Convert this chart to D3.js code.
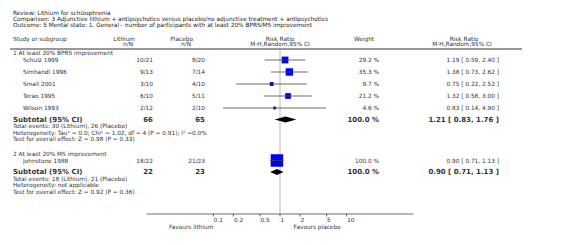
<!DOCTYPE html>
<html>
<head>
<meta charset="utf-8">
<script src="https://cdn.jsdelivr.net/npm/d3@7"></script>
<style>
  body { margin: 0; background: #fff; }
  svg text { font-family: "DejaVu Sans", Verdana, sans-serif; fill: #333; }
</style>
</head>
<body>
<div id="chart"></div>
<script>
// Study data
const studies = ["Schulz 1999", "Simhandl 1996", "Small 2001", "Terao 1995", "Wilson 1993", "Johnstone 1988"];
const studyGroup = [0, 0, 0, 0, 0, 1];
const lithiumEvents = [10, 9, 3, 6, 2, 18];
const lithiumTotal = [21, 13, 10, 10, 12, 22];
const placeboEvents = [8, 7, 4, 5, 2, 21];
const placeboTotal = [20, 14, 10, 11, 10, 23];
const riskRatio = [1.19, 1.38, 0.75, 1.32, 0.83, 0.90];
const ciLow = [0.59, 0.73, 0.22, 0.58, 0.14, 0.71];
const ciHigh = [2.40, 2.62, 2.52, 3.00, 4.90, 1.13];
const weights = [29.2, 35.3, 9.7, 21.2, 4.6, 100.0];

// Subgroup data
const groupNames = ["1 At least 20% BPRS improvement", "2 At least 20% MS improvement"];
const groupLithiumTotal = [66, 22];
const groupPlaceboTotal = [65, 23];
const groupRR = [1.21, 0.90];
const groupLow = [0.83, 0.71];
const groupHigh = [1.76, 1.13];
const groupEvents = ["Total events: 30 (Lithium), 26 (Placebo)", "Total events: 18 (Lithium), 21 (Placebo)"];
const groupHetero = ["Heterogeneity: Tau\u00b2 = 0.0; Chi\u00b2 = 1.02, df = 4 (P = 0.91); I\u00b2 =0.0%", "Heterogeneity: not applicable"];
const groupTest = ["Test for overall effect: Z = 0.98 (P = 0.33)", "Test for overall effect: Z = 0.92 (P = 0.36)"];

const tickValues = [0.1, 0.2, 0.5, 1, 2, 5, 10];
const titleLines = [
    "Review:  Lithium for schizophrenia",
    "Comparison:  3 Adjunctive lithium + antipsychotics versus placebo/no adjunctive treatment + antipsychotics",
    "Outcome:  5 Mental state: 1. General - number of participants with at least 20% BPRS/MS improvement"
];

const width = 566, height = 245;
const fs = 5.8, fsBold = 7;

const svg = d3.select('#chart')
    .append('svg')
    .attr('width', width)
    .attr('height', height);

// Log scale for risk ratio, axis spans 0.01 .. 100
const x = d3.scaleLog().domain([0.01, 100]).range([146.7, 413.3]);
const boxSize = d3.scaleSqrt().domain([0, 100]).range([0, 12.5]);

// column positions
const col = { name: 13, indent: 23, lith: 153, plac: 205, weight: 379, rr: 499 };

function txt(xp, yp, s, anchor, bold) {
    return svg.append('text')
        .attr('x', xp)
        .attr('y', yp)
        .attr('dy', '0.35em')
        .attr('text-anchor', anchor || 'start')
        .style('font-size', (bold ? fsBold : fs) + 'px')
        .style('font-weight', bold ? 'bold' : 'normal')
        .text(s);
}

// Title
titleLines.forEach((s, i) => txt(col.name, 12.5 + i * 6, s).style('fill', '#222'));

// Column headers
txt(col.name, 38.5, "Study or subgroup");
txt(135, 38.5, "Lithium", 'end');
txt(133, 44, "n/N", 'end');
txt(193, 38.5, "Placebo", 'end');
txt(191, 44, "n/N", 'end');
txt(x(1), 38.5, "Risk Ratio", 'middle');
txt(x(1), 44, "M-H,Random,95% CI", 'middle');
txt(364, 38.5, "Weight", 'middle');
txt(464, 38.5, "Risk Ratio", 'middle');
txt(462, 44, "M-H,Random,95% CI", 'middle');

svg.append('line')
    .attr('x1', 10).attr('x2', 522)
    .attr('y1', 49).attr('y2', 49)
    .attr('stroke', '#999')
    .attr('stroke-width', 2);

const axisY = 214;

// Reference line at RR = 1
svg.append('line')
    .attr('x1', x(1)).attr('x2', x(1))
    .attr('y1', 50).attr('y2', axisY)
    .attr('stroke', '#ddd')
    .attr('stroke-width', 2);

// Rows
const groupTop = [53, 153.5];
const fmt = d3.format('.2f');

groupNames.forEach((g, gi) => {
    let y = groupTop[gi];
    txt(col.name, y, g);
    const idx = studies.map((s, i) => i).filter(i => studyGroup[i] === gi);
    idx.forEach((i, k) => {
        const yy = y + 7 + k * 12;
        txt(col.indent, yy, studies[i]);
        txt(col.lith, yy, lithiumEvents[i] + '/' + lithiumTotal[i], 'end');
        txt(col.plac, yy, placeboEvents[i] + '/' + placeboTotal[i], 'end');
        txt(col.weight, yy, weights[i].toFixed(1) + ' %', 'end');
        txt(col.rr, yy, fmt(riskRatio[i]) + ' [ ' + fmt(ciLow[i]) + ', ' + fmt(ciHigh[i]) + ' ]', 'end');

        const s = boxSize(weights[i]);
        svg.append('rect')
            .attr('x', x(riskRatio[i]) - s / 2)
            .attr('y', yy - s / 2)
            .attr('width', s)
            .attr('height', s)
            .attr('fill', '#0000ff');
        svg.append('line')
            .attr('x1', x(ciLow[i])).attr('x2', x(ciHigh[i]))
            .attr('y1', yy).attr('y2', yy)
            .attr('stroke', '#444')
            .attr('stroke-width', 0.8);
        svg.append('line')
            .attr('x1', x(riskRatio[i])).attr('x2', x(riskRatio[i]))
            .attr('y1', yy - 1.5).attr('y2', yy + 1.5)
            .attr('stroke', '#222')
            .attr('stroke-width', 0.8);
    });

    const ys = y + 7 + idx.length * 12 - 0.5;
    txt(col.name, ys, "Subtotal (95% CI)", 'start', true);
    txt(col.lith, ys, groupLithiumTotal[gi], 'end', true);
    txt(col.plac, ys, groupPlaceboTotal[gi], 'end', true);
    txt(col.weight, ys, '100.0 %', 'end', true);
    txt(col.rr, ys, fmt(groupRR[gi]) + ' [ ' + fmt(groupLow[gi]) + ', ' + fmt(groupHigh[gi]) + ' ]', 'end', true);

    // diamond
    const h = 3;
    svg.append('path')
        .attr('d', `M${x(groupLow[gi])},${ys} L${x(groupRR[gi])},${ys - h} L${x(groupHigh[gi])},${ys} L${x(groupRR[gi])},${ys + h} Z`)
        .attr('fill', '#000');

    txt(col.name, ys + 6.8, groupEvents[gi]);
    txt(col.name, ys + 13.3, groupHetero[gi]);
    txt(col.name, ys + 19.8, groupTest[gi]);
});

// Axis
const axisG = svg.append('g');
axisG.append('line')
    .attr('x1', x.range()[0]).attr('x2', x.range()[1])
    .attr('y1', axisY).attr('y2', axisY)
    .attr('stroke', '#444')
    .attr('stroke-width', 0.8);

axisG.selectAll('.tick')
    .data(tickValues)
    .join('line')
    .attr('x1', d => x(d)).attr('x2', d => x(d))
    .attr('y1', axisY).attr('y2', axisY + 2.5)
    .attr('stroke', '#444')
    .attr('stroke-width', 0.8);

tickValues.forEach(d => txt(x(d) + 0.5, axisY + 5.8, String(d)));

txt(x(0.1), axisY + 12.5, "Favours lithium", 'end');
txt(x(1.6), axisY + 12.5, "Favours placebo", 'start');
</script>
</body>
</html>
